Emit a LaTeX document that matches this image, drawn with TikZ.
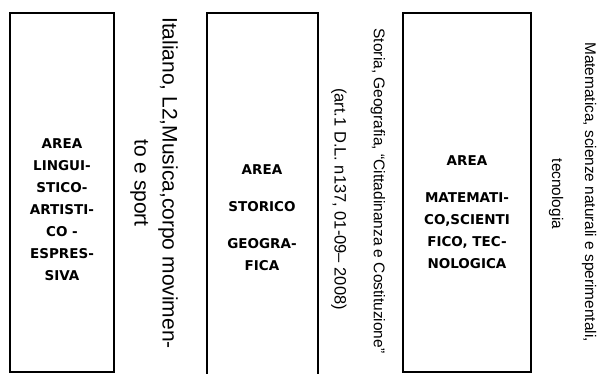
\documentclass[tikz,border=0pt]{standalone}
\usepackage{fontspec}
\setmainfont{Liberation Sans}
\newfontfamily\areafont{DejaVu Sans}
\usetikzlibrary{positioning}
\tikzset{
  areabox/.style={draw,line width=2.8pt},
  areatext/.style={font=\areafont\bfseries\fontsize{13.5}{22}\selectfont,align=center,inner sep=0pt},
  subjtext/.style={rotate=-90,inner sep=0pt,align=center}
}

\begin{document}
\begin{tikzpicture}[x=1pt,y=-1pt]
\useasboundingbox (0,0) rectangle (598,374);

\draw[areabox] (10,13) rectangle (114,372);
\draw[areabox] (207,380) -- (207,13) -- (318,13) -- (318,380);
\draw[areabox] (403,13) rectangle (531,372);

\node[areatext] (ling) at (62,210) {AREA\\LINGUI-\\STICO-\\ARTISTI-\\CO -\\ESPRES-\\SIVA};
\node[areatext] (stor) at (262,218) {AREA\\[15pt]STORICO\\[15pt]GEOGRA-\\FICA};
\node[areatext] (mate) at (467,212) {AREA\\[15pt]MATEMATI-\\CO,SCIENTI\\FICO, TEC-\\NOLOGICA};

\node[subjtext,font=\fontsize{21}{28}\selectfont] (ita) at (154,183) {Italiano, L2,Musica,corpo movimen-\\to e sport};
\node[subjtext,font=\fontsize{16.5}{20}\selectfont] (art) at (339,199) {(art.1 D.L. n137, 01-09– 2008)};
\node[subjtext,font=\fontsize{15.5}{19}\selectfont] (sto) at (378,191) {Storia, Geografia, “Cittadinanza e Costituzione”};
\node[subjtext,font=\fontsize{15.4}{19}\selectfont] (tec) at (556,194) {tecnologia};
\node[subjtext,font=\fontsize{15.4}{19}\selectfont] (mat) at (589,192) {Matematica, scienze naturali e sperimentali,};
\end{tikzpicture}
\end{document}
